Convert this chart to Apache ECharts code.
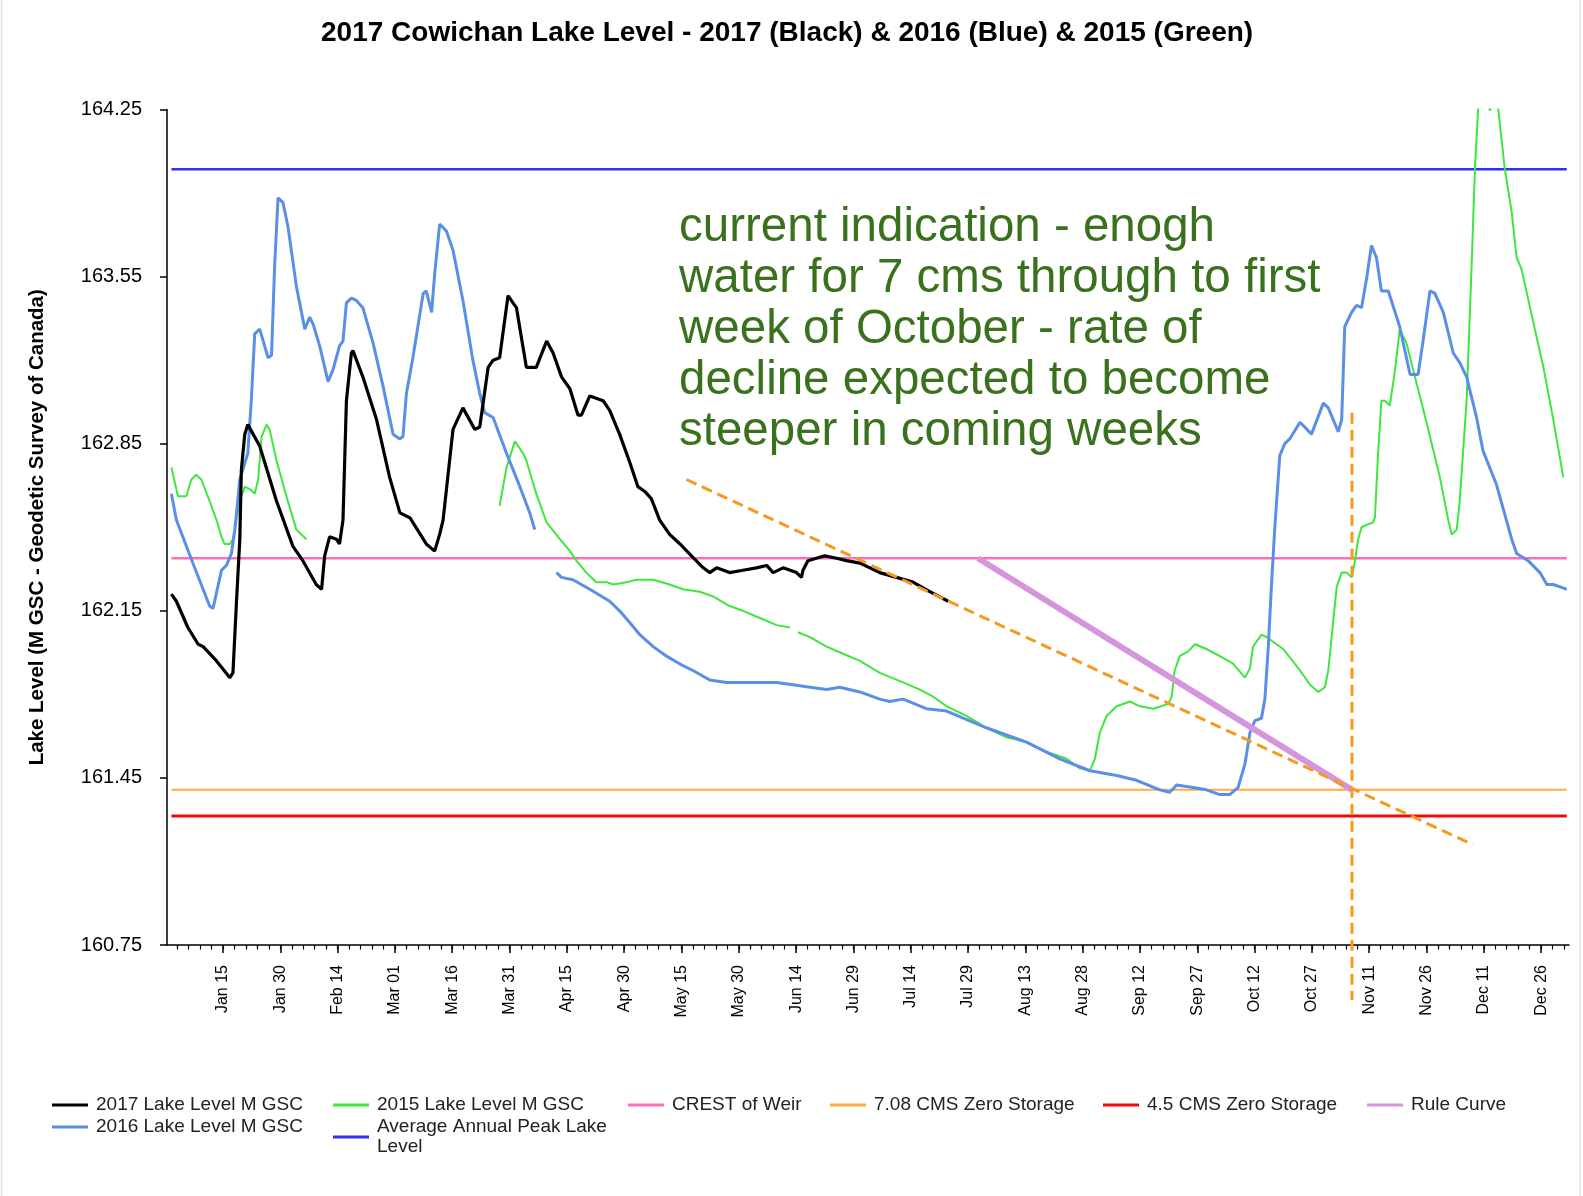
<!DOCTYPE html>
<html>
<head>
<meta charset="utf-8">
<title>2017 Cowichan Lake Level</title>
<script src="https://cdn.jsdelivr.net/npm/echarts@6/dist/echarts.min.js"></script>
<style>
  html, body { margin: 0; padding: 0; background: #fff; }
  #chart { width: 1583px; height: 1196px; }
</style>
</head>
<body>
<div id="chart"></div>
<script>
// [day of year, lake level m GSC]
var lake2017 = [
  [1.5, 162.22], [2.8, 162.19], [5.8, 162.08], [8.5, 162.01], [9.8, 162.00], [13.3, 161.94],
  [16.8, 161.87], [17.6, 161.89], [18.5, 162.18], [19.4, 162.45], [19.8, 162.74], [20.7, 162.89],
  [21.5, 162.93], [24.6, 162.84], [29.0, 162.61], [33.3, 162.42], [35.9, 162.36], [39.4, 162.26],
  [40.8, 162.24], [41.6, 162.38], [42.9, 162.46], [44.7, 162.45], [45.5, 162.43], [46.4, 162.53],
  [47.3, 163.03], [48.6, 163.23], [49.0, 163.24], [51.6, 163.13], [55.2, 162.95], [58.6, 162.71],
  [61.3, 162.56], [63.9, 162.54], [68.2, 162.43], [70.4, 162.40], [71.7, 162.47], [72.6, 162.53],
  [75.2, 162.91], [77.8, 163.00], [80.9, 162.91], [82.2, 162.92], [84.4, 163.17], [85.7, 163.20],
  [87.4, 163.21], [89.6, 163.47], [90.9, 163.44], [91.8, 163.42], [94.4, 163.17], [97.0, 163.17],
  [99.7, 163.28], [101.4, 163.23], [103.6, 163.13], [105.8, 163.08], [107.9, 162.97], [108.8, 162.97],
  [111.0, 163.05], [114.5, 163.03], [116.2, 162.99], [118.8, 162.89], [121.5, 162.77], [123.6, 162.67],
  [125.4, 162.65], [127.1, 162.62], [129.3, 162.53], [131.9, 162.47], [134.6, 162.43], [137.6, 162.38],
  [140.7, 162.33], [142.4, 162.31], [144.2, 162.33], [147.6, 162.31], [151.1, 162.32], [154.6, 162.33],
  [157.3, 162.34], [159.0, 162.31], [161.6, 162.33], [165.1, 162.31], [166.4, 162.29], [166.8, 162.32],
  [168.1, 162.36], [170.3, 162.37], [172.5, 162.38], [175.6, 162.37], [178.2, 162.36], [181.7, 162.35],
  [186.9, 162.31], [195.6, 162.27], [200.0, 162.23], [204.8, 162.19]
];

var lake2016a = [
  [1.5, 162.64], [2.8, 162.53], [7.1, 162.35], [11.5, 162.17], [12.4, 162.16], [14.6, 162.32],
  [15.9, 162.34], [17.2, 162.39], [18.1, 162.49], [19.4, 162.70], [21.5, 162.81], [22.4, 163.03],
  [23.3, 163.31], [24.6, 163.33], [26.8, 163.21], [27.7, 163.22], [28.5, 163.59], [29.4, 163.88],
  [30.7, 163.86], [32.0, 163.76], [34.2, 163.51], [36.4, 163.33], [37.7, 163.38], [38.6, 163.35],
  [40.3, 163.26], [42.5, 163.11], [43.8, 163.16], [45.5, 163.26], [46.4, 163.28], [47.3, 163.44],
  [48.6, 163.46], [49.9, 163.45], [51.6, 163.42], [54.3, 163.27], [56.9, 163.09], [59.5, 162.89],
  [61.3, 162.87], [62.1, 162.88], [63.0, 163.06], [64.7, 163.21], [67.4, 163.48], [68.2, 163.49],
  [69.6, 163.40], [70.4, 163.56], [71.7, 163.77], [73.5, 163.74], [75.2, 163.66], [77.8, 163.45],
  [80.4, 163.20], [82.2, 163.06], [83.5, 162.98], [85.7, 162.96], [89.2, 162.81], [92.7, 162.67],
  [95.3, 162.56], [96.6, 162.49]
];
var lake2016b = [
  [102.3, 162.31], [103.6, 162.29], [106.6, 162.28], [111.0, 162.24], [116.2, 162.19], [118.8, 162.15],
  [121.5, 162.10], [124.1, 162.05], [127.6, 162.00], [131.1, 161.96], [135.4, 161.92], [138.0, 161.90],
  [142.4, 161.86], [146.8, 161.85], [151.1, 161.85], [155.5, 161.85], [159.9, 161.85], [164.2, 161.84],
  [168.6, 161.83], [173.0, 161.82], [176.4, 161.83], [181.7, 161.81], [186.9, 161.78], [189.5, 161.77],
  [193.0, 161.78], [199.1, 161.74], [204.4, 161.73], [214.8, 161.66], [225.3, 161.60], [234.0, 161.53],
  [241.9, 161.48], [248.9, 161.46], [254.1, 161.44], [260.2, 161.40], [262.8, 161.39], [264.6, 161.42],
  [268.9, 161.41], [272.4, 161.40], [275.9, 161.38], [278.5, 161.38], [280.7, 161.41], [282.5, 161.51],
  [283.8, 161.64], [285.1, 161.69], [286.8, 161.70], [287.7, 161.78], [288.6, 162.00], [289.4, 162.25],
  [290.3, 162.50], [291.6, 162.80], [292.9, 162.85], [294.2, 162.87], [296.9, 162.94], [299.9, 162.89],
  [303.0, 163.02], [304.3, 163.00], [306.9, 162.90], [307.8, 162.95], [308.6, 163.34], [310.4, 163.40],
  [311.7, 163.43], [313.0, 163.42], [314.3, 163.54], [315.6, 163.68], [316.9, 163.63], [318.2, 163.49],
  [320.0, 163.49], [323.0, 163.34], [325.7, 163.14], [327.8, 163.14], [329.1, 163.28], [330.9, 163.49],
  [332.2, 163.48], [334.4, 163.40], [337.0, 163.23], [338.7, 163.19], [340.5, 163.13], [343.1, 162.96],
  [344.8, 162.82], [348.3, 162.68], [352.3, 162.45], [353.6, 162.39], [356.6, 162.36], [359.7, 162.31],
  [361.5, 162.26], [363.2, 162.26], [365.0, 162.25], [366.7, 162.24]
];

var lake2015a = [
  [1.5, 162.75], [3.2, 162.63], [5.4, 162.63], [6.7, 162.70], [8.0, 162.72], [9.3, 162.70],
  [11.5, 162.61], [13.3, 162.53], [14.6, 162.46], [15.4, 162.43], [16.8, 162.43], [17.6, 162.45],
  [18.5, 162.53], [19.4, 162.61], [20.7, 162.67], [22.0, 162.66], [23.3, 162.64], [24.2, 162.70],
  [25.1, 162.88], [26.4, 162.93], [27.2, 162.91], [29.0, 162.78], [31.6, 162.63], [34.2, 162.49],
  [36.8, 162.45]
];
var lake2015b = [
  [87.4, 162.59], [89.2, 162.75], [91.4, 162.86], [93.5, 162.81], [94.4, 162.78], [97.0, 162.64],
  [99.7, 162.52], [102.7, 162.46], [105.8, 162.40], [107.5, 162.36], [110.1, 162.31], [112.7, 162.27],
  [115.4, 162.27], [117.1, 162.26], [120.6, 162.27], [123.2, 162.28], [127.6, 162.28], [131.9, 162.26],
  [135.4, 162.24], [139.8, 162.23], [143.3, 162.21], [147.6, 162.17], [151.1, 162.15], [155.5, 162.12],
  [159.9, 162.09], [163.4, 162.08]
];
var lake2015c = [
  [165.5, 162.06], [168.6, 162.04], [173.0, 162.00], [177.3, 161.97], [181.7, 161.94], [186.9, 161.89],
  [193.0, 161.85], [197.4, 161.82], [200.9, 161.79], [204.4, 161.75], [209.6, 161.71], [214.8, 161.66],
  [220.1, 161.62], [225.3, 161.60], [230.5, 161.56], [235.8, 161.53], [239.3, 161.49], [241.9, 161.48],
  [243.2, 161.53], [244.5, 161.64], [246.3, 161.71], [248.9, 161.75], [252.4, 161.77], [255.0, 161.75],
  [258.5, 161.74], [262.4, 161.76], [263.3, 161.79], [264.1, 161.90], [265.4, 161.96], [267.6, 161.98],
  [269.4, 162.01], [272.4, 161.99], [275.9, 161.96], [279.3, 161.93], [282.5, 161.87], [283.8, 161.91],
  [284.6, 162.00], [286.8, 162.05], [288.1, 162.04], [292.5, 161.99], [296.9, 161.90], [299.5, 161.84],
  [301.7, 161.81], [303.4, 161.83], [304.3, 161.90], [305.6, 162.11], [306.5, 162.25], [307.8, 162.31],
  [309.1, 162.31], [310.4, 162.29], [311.3, 162.36], [312.1, 162.45], [313.0, 162.50], [314.3, 162.51],
  [316.0, 162.52], [316.5, 162.54], [317.3, 162.80], [318.2, 163.03], [319.1, 163.03], [320.4, 163.01],
  [321.7, 163.15], [323.0, 163.33], [324.8, 163.27], [326.5, 163.16], [330.0, 162.94], [333.5, 162.71],
  [335.7, 162.53], [336.6, 162.47], [337.9, 162.49], [338.7, 162.61], [340.5, 163.03], [341.8, 163.59],
  [342.7, 164.01], [343.5, 164.25], [345.0, 164.35], [346.6, 164.245], [347.6, 164.30], [348.8, 164.25],
  [350.5, 164.00], [352.3, 163.82], [353.6, 163.63], [354.9, 163.58], [357.1, 163.42], [360.6, 163.17],
  [363.2, 162.95], [365.8, 162.71]
];

// reference levels
var avgPeakLevel = 164.0;
var crestOfWeir = 162.37;
var zeroStorage708 = 161.40;
var zeroStorage45 = 161.29;
var yearSpan = [1.5, 366.7];

// hand drawn annotations
var ruleCurve = [[212.6, 162.37], [310.5, 161.40]];
var trendLine = [[136.3, 162.70], [342.2, 161.17]];
var markerLine = [[310.5, 162.98], [310.5, 160.52]];
var noteLines = [
  'current indication - enogh',
  'water for 7 cms through to first',
  'week of October - rate of',
  'decline expected to become',
  'steeper in coming weeks'
];

var tickDays = [15, 30, 45, 60, 75, 90, 105, 120, 135, 150, 165, 180, 195, 210, 225, 240, 255, 270, 285, 300, 315, 330, 345, 360];
var tickLabels = ['Jan 15', 'Jan 30', 'Feb 14', 'Mar 01', 'Mar 16', 'Mar 31', 'Apr 15', 'Apr 30', 'May 15', 'May 30', 'Jun 14', 'Jun 29',
  'Jul 14', 'Jul 29', 'Aug 13', 'Aug 28', 'Sep 12', 'Sep 27', 'Oct 12', 'Oct 27', 'Nov 11', 'Nov 26', 'Dec 11', 'Dec 26'];
var levelTicks = [160.75, 161.45, 162.15, 162.85, 163.55, 164.25];

var FONT = '"Liberation Sans", Arial, sans-serif';

// put a gap point between pieces so the line breaks
function joinSegments(segs) {
  var out = [];
  for (var i = 0; i < segs.length; i++) {
    if (i > 0) {
      var prev = segs[i - 1][segs[i - 1].length - 1];
      out.push([(prev[0] + segs[i][0][0]) / 2, '-']);
    }
    out = out.concat(segs[i]);
  }
  return out;
}
function flat(level) {
  return yearSpan.map(function (d) { return [d, level]; });
}
function lineSeries(name, color, width, data, extra) {
  var s = {
    name: name,
    type: 'line',
    data: data,
    showSymbol: false,
    symbol: 'none',
    connectNulls: false,
    color: color,
    lineStyle: { color: color, width: width },
    emphasis: { disabled: true }
  };
  if (extra) Object.assign(s, extra);
  return s;
}

var minorTicks = [];
for (var d = 3; d <= 366; d += 3) minorTicks.push(d);

var legendCommon = {
  icon: 'rect',
  itemWidth: 36,
  itemHeight: 3,
  padding: 0,
  selectedMode: false,
  textStyle: { fontSize: 19, color: '#222', lineHeight: 20, fontFamily: FONT, padding: [0, 0, 0, 3] }
};
function legendAt(left, names, extra) {
  return Object.assign({}, legendCommon, { left: left, top: 1095, orient: 'vertical', itemGap: 2, data: names }, extra || {});
}

var myChart = echarts.init(document.getElementById('chart'));
var option = {
  animation: false,
  backgroundColor: '#fff',
  textStyle: { fontFamily: FONT },
  title: {
    text: '2017 Cowichan Lake Level - 2017 (Black) & 2016 (Blue) & 2015 (Green)',
    left: 321,
    top: 19,
    padding: 0,
    textStyle: { fontSize: 28, fontWeight: 'bold', color: '#000', fontFamily: FONT }
  },
  grid: { left: 167, right: 14, top: 109.5, bottom: 251, containLabel: false, outerBoundsMode: 'none' },
  xAxis: [
    {
      type: 'value',
      min: 0.34,
      max: 367.3,
      splitLine: { show: false },
      axisLine: { lineStyle: { color: '#000', width: 1.5 } },
      axisTick: { customValues: tickDays, length: 8, lineStyle: { color: '#000', width: 1.5 } },
      axisLabel: {
        customValues: tickDays,
        rotate: 90,
        margin: 20,
        fontSize: 16,
        color: '#000',
        fontFamily: FONT,
        formatter: function (v) {
          var i = tickDays.indexOf(Math.round(v));
          return i >= 0 ? tickLabels[i] : '';
        }
      }
    },
    {
      type: 'value',
      min: 0.34,
      max: 367.3,
      position: 'bottom',
      splitLine: { show: false },
      axisLine: { show: false },
      axisTick: { customValues: minorTicks, length: 4.5, lineStyle: { color: '#000', width: 1.2 } },
      axisLabel: { show: false }
    }
  ],
  yAxis: {
    type: 'value',
    min: 160.75,
    max: 164.25,
    name: 'Lake Level (M GSC - Geodetic Survey of Canada)',
    nameLocation: 'middle',
    nameGap: 119,
    nameTextStyle: { fontSize: 20.5, fontWeight: 'bold', color: '#000', fontFamily: FONT },
    splitLine: { show: false },
    axisLine: { show: true, lineStyle: { color: '#000', width: 1.5 } },
    axisTick: { show: true, customValues: levelTicks, length: 7, lineStyle: { color: '#000', width: 1.5 } },
    axisLabel: {
      customValues: levelTicks,
      margin: 25,
      fontSize: 20,
      color: '#000',
      fontFamily: FONT,
      formatter: function (v) { return v.toFixed(2); }
    }
  },
  legend: [
    legendAt(52, ['2017 Lake Level M GSC', '2016 Lake Level M GSC']),
    legendAt(333, ['2015 Lake Level M GSC', 'Average Annual Peak Lake Level'], {
      formatter: function (name) {
        return name === 'Average Annual Peak Lake Level' ? 'Average Annual Peak Lake\nLevel' : name;
      }
    }),
    legendAt(628, ['CREST of Weir']),
    legendAt(830, ['7.08 CMS Zero Storage']),
    legendAt(1103, ['4.5 CMS Zero Storage']),
    legendAt(1367, ['Rule Curve'])
  ],
  graphic: [
    {
      type: 'text',
      left: 679,
      top: 202,
      silent: true,
      style: {
        text: noteLines.join('\n'),
        fontSize: 47.5,
        fontFamily: FONT,
        lineHeight: 51,
        fill: '#3a711c'
      }
    },
    { type: 'line', silent: true, shape: { x1: 1.5, y1: 0, x2: 1.5, y2: 1196 }, style: { stroke: '#d6e3ee', lineWidth: 1.5 } },
    { type: 'line', silent: true, shape: { x1: 1580, y1: 0, x2: 1580, y2: 1196 }, style: { stroke: '#d6e3ee', lineWidth: 1.5 } }
  ],
  series: [
    lineSeries('Average Annual Peak Lake Level', '#2f2ff0', 2.5, flat(avgPeakLevel)),
    lineSeries('CREST of Weir', '#ff6eb9', 2.5, flat(crestOfWeir)),
    lineSeries('7.08 CMS Zero Storage', '#ffab40', 2, flat(zeroStorage708)),
    lineSeries('4.5 CMS Zero Storage', '#ee0a0a', 3, flat(zeroStorage45)),
    lineSeries('2015 Lake Level M GSC', '#3ee63e', 2, joinSegments([lake2015a, lake2015b, lake2015c])),
    lineSeries('2016 Lake Level M GSC', '#5b8ee6', 3, joinSegments([lake2016a, lake2016b])),
    lineSeries('2017 Lake Level M GSC', '#000000', 3.2, lake2017),
    lineSeries('Rule Curve', '#d595dd', 6, ruleCurve),
    lineSeries('trend', '#f59a1f', 3, trendLine, { lineStyle: { color: '#f59a1f', width: 3, type: [11, 6] } }),
    lineSeries('marker', '#f59a1f', 3, markerLine, { clip: false, lineStyle: { color: '#f59a1f', width: 3, type: [11, 6] } })
  ]
};
myChart.setOption(option);
</script>
</body>
</html>
